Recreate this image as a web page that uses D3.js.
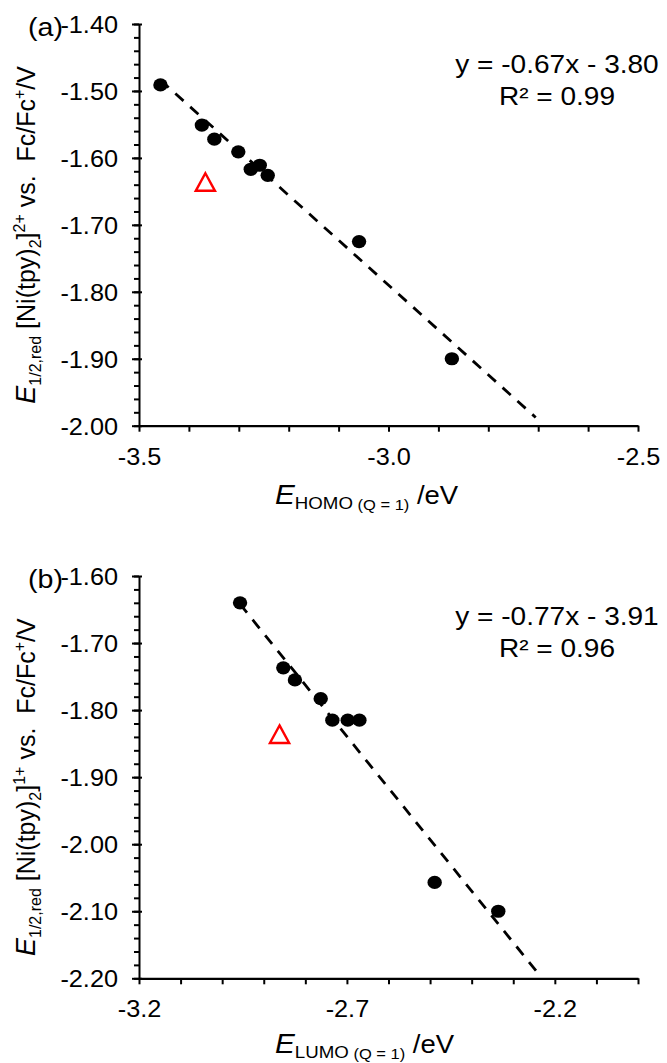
<!DOCTYPE html>
<html>
<head>
<meta charset="utf-8">
<script src="https://cdn.jsdelivr.net/npm/d3@7"></script>
<style>
body { margin: 0; background: #fff; }
text { font-family: Arial, "Liberation Sans", sans-serif; fill: #000; white-space: pre; }
</style>
</head>
<body>
<svg id="chart" width="667" height="1063"></svg>
<script>
// ---- panel (a): HOMO ----
var homoX = [-3.457, -3.374, -3.349, -3.301, -3.276, -3.258, -3.242, -3.059, -2.873];
var redA = [-1.491, -1.551, -1.572, -1.591, -1.617, -1.611, -1.626, -1.725, -1.900];
var homoOutX = [-3.367];
var redAOut = [-1.636];
var fitA = [-0.67, -3.80];          // slope, intercept
var fitAX = [-3.457, -2.705];       // trendline extent
var eqA = ["y = -0.67x - 3.80", "R\u00b2 = 0.99"];
var xDomA = [-3.5, -2.5];
var yDomA = [-2.0, -1.4];
var xLabelsA = [-3.5, -3.0, -2.5];
var yLabelsA = [-1.4, -1.5, -1.6, -1.7, -1.8, -1.9, -2.0];

// ---- panel (b): LUMO ----
var lumoX = [-2.957, -2.853, -2.825, -2.763, -2.735, -2.698, -2.670, -2.489, -2.336];
var redB = [-1.640, -1.737, -1.755, -1.783, -1.815, -1.815, -1.815, -2.057, -2.100];
var lumoOutX = [-2.862];
var redBOut = [-1.836];
var fitB = [-0.768, -3.913];
var fitBX = [-2.957, -2.234];
var eqB = ["y = -0.77x - 3.91", "R\u00b2 = 0.96"];
var xDomB = [-3.2, -2.0];
var yDomB = [-2.2, -1.6];
var xLabelsB = [-3.2, -2.7, -2.2];
var yLabelsB = [-1.6, -1.7, -1.8, -1.9, -2.0, -2.1, -2.2];

var SX = 1.1; // the figure is slightly stretched horizontally
var svg = d3.select("#chart");

function drawPanel(p) {
    var x = d3.scaleLinear().domain(p.xDom).range([139, 638]);
    var y = d3.scaleLinear().domain(p.yDom).range([p.bottom, p.top]);
    var g = svg.append("g");

    // y minor ticks every 0.02
    var nMinor = Math.round((p.yDom[1] - p.yDom[0]) / 0.02);
    var minor = d3.range(0, nMinor + 1).map(function (i) { return p.yDom[0] + i * 0.02; });
    var gm = g.append("g").attr("transform", "translate(139,0)")
        .call(d3.axisLeft(y).tickValues(minor).tickSize(5).tickSizeOuter(0).tickFormat(""));
    gm.select(".domain").remove();
    gm.selectAll(".tick line").attr("stroke-width", 2);

    var gy = g.append("g").attr("transform", "translate(139,0)")
        .call(d3.axisLeft(y).tickValues(p.yLabels).tickSize(7).tickSizeOuter(0)
            .tickFormat(function (v) { return v.toFixed(2); }));
    gy.select(".domain").attr("stroke-width", 2);
    gy.selectAll(".tick line").attr("x1", 3).attr("stroke-width", 2);
    gy.selectAll(".tick text")
        .attr("x", 0).attr("dy", null).attr("y", 0)
        .attr("transform", "translate(-21,8.5) scale(" + SX + ",1)")
        .attr("font-size", 23).attr("font-family", null).attr("fill", "#000");

    // x ticks every 0.1, labels every 0.5
    var nX = Math.round((p.xDom[1] - p.xDom[0]) / 0.1);
    var xt = d3.range(0, nX + 1).map(function (i) { return p.xDom[0] + i * 0.1; });
    var gx = g.append("g").attr("transform", "translate(0," + p.bottom + ")")
        .call(d3.axisBottom(x).tickValues(xt).tickSize(6).tickSizeOuter(0)
            .tickFormat(function (v) {
                var hit = p.xLabels.some(function (l) { return Math.abs(l - v) < 1e-6; });
                return hit ? v.toFixed(1) : "";
            }));
    gx.select(".domain").attr("stroke-width", 2.2);
    gx.selectAll(".tick line").attr("stroke-width", 2);
    gx.selectAll(".tick text")
        .attr("y", 0).attr("dy", null)
        .attr("transform", "translate(0,39) scale(" + SX + ",1)")
        .attr("font-size", 23).attr("font-family", null).attr("fill", "#000");

    // trendline
    var line = d3.line()
        .x(function (d) { return x(d); })
        .y(function (d) { return y(p.fit[0] * d + p.fit[1]); });
    g.append("path").datum(p.fitX)
        .attr("d", line)
        .attr("fill", "none").attr("stroke", "#000")
        .attr("stroke-width", 2.8).attr("stroke-dasharray", "11,9");

    // points
    g.selectAll(".pt").data(p.xs).enter().append("ellipse")
        .attr("cx", function (d) { return x(d); })
        .attr("cy", function (d, i) { return y(p.ys[i]); })
        .attr("rx", 7.2).attr("ry", 6.6).attr("fill", "#000");

    // outlier (open red triangle)
    g.selectAll(".tri").data(p.outX).enter().append("path")
        .attr("d", function (d, i) {
            var cx = x(d), cy = y(p.outY[i]);
            return "M" + cx + "," + (cy - 8.8) + "L" + (cx + 9.6) + "," + (cy + 8.8) +
                "L" + (cx - 9.6) + "," + (cy + 8.8) + "Z";
        })
        .attr("fill", "none").attr("stroke", "#ff0000").attr("stroke-width", 2.4)
        .attr("stroke-linejoin", "miter");

    // equation
    p.eq.forEach(function (s, i) {
        g.append("text")
            .attr("transform", "translate(557," + (p.top + (i ? 81 : 48.5)) + ") scale(" + SX + ",1)")
            .attr("text-anchor", "middle").attr("font-size", 25.5).text(s);
    });

    // panel tag
    g.append("text")
        .attr("transform", "translate(28," + (p.top + 12) + ") scale(" + SX + ",1)")
        .attr("font-size", 26).text(p.tag);

    // y title
    var yt = g.append("text")
        .attr("transform", "translate(35," + ((p.top + p.bottom) / 2 + 10) + ") rotate(-90)")
        .attr("text-anchor", "middle").attr("font-size", 25);
    yt.append("tspan").attr("font-style", "italic").attr("font-size", 27).text("E");
    yt.append("tspan").attr("font-size", 16).attr("dy", 6).text("1/2,red");
    yt.append("tspan").attr("dy", -6).text(" [Ni(tpy)");
    yt.append("tspan").attr("font-size", 16).attr("dy", 6).text("2");
    yt.append("tspan").attr("dy", -6).text("]");
    yt.append("tspan").attr("font-size", 16).attr("dy", -10).text(p.charge);
    yt.append("tspan").attr("dy", 10).text(" vs.  Fc/Fc");
    yt.append("tspan").attr("font-size", 16).attr("dy", -10).text("+");
    yt.append("tspan").attr("dy", 10).text("/V");

    // x title
    var xtl = g.append("text")
        .attr("transform", "translate(275," + Math.min(p.bottom + 78.5, 1053) + ") scale(" + SX + ",1)")
        .attr("font-size", 25);
    xtl.append("tspan").attr("font-style", "italic").attr("font-size", 27).text("E");
    xtl.append("tspan").attr("font-size", 17).attr("dy", 5).text(p.orb);
    xtl.append("tspan").attr("font-size", 15).attr("dy", 1).text(" (Q = 1)");
    xtl.append("tspan").attr("dy", -6).text(" /eV");
}

drawPanel({
    xDom: xDomA, yDom: yDomA, xLabels: xLabelsA, yLabels: yLabelsA,
    xs: homoX, ys: redA, outX: homoOutX, outY: redAOut,
    fit: fitA, fitX: fitAX, eq: eqA,
    top: 24, bottom: 425.7, tag: "(a)", charge: "2+", orb: "HOMO"
});
drawPanel({
    xDom: xDomB, yDom: yDomB, xLabels: xLabelsB, yLabels: yLabelsB,
    xs: lumoX, ys: redB, outX: lumoOutX, outY: redBOut,
    fit: fitB, fitX: fitBX, eq: eqB,
    top: 576, bottom: 978.3, tag: "(b)", charge: "1+", orb: "LUMO"
});
</script>
</body>
</html>
